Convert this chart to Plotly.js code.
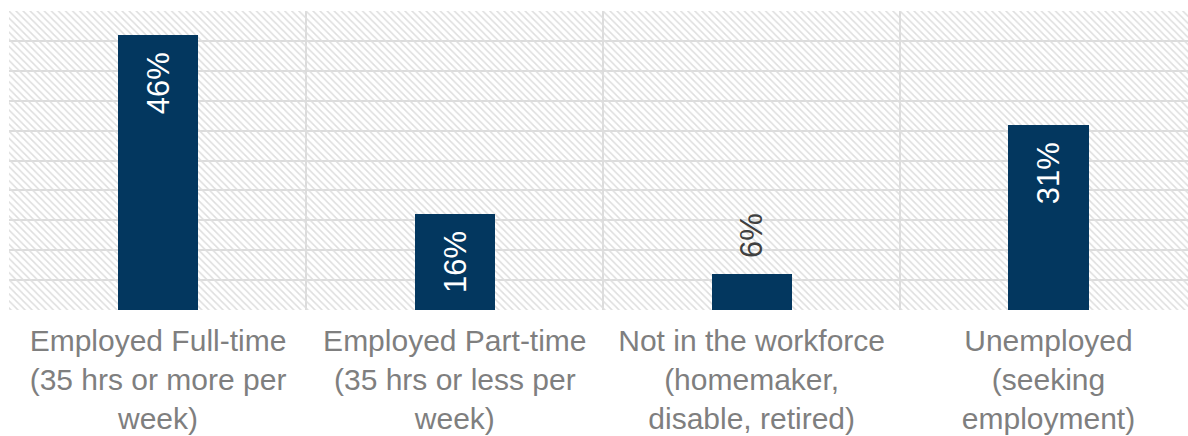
<!DOCTYPE html>
<html>
<head>
<meta charset="utf-8">
<script src="https://cdn.plot.ly/plotly-3.0.1.min.js"></script>
<style>
  html, body { margin: 0; padding: 0; background: #ffffff; }
  #chart { width: 1188px; height: 436px; }
</style>
</head>
<body>
<div id="chart"></div>
<script>
// ---- data ----
const categories = [
  "Employed Full-time<br>(35 hrs or more per<br>week)",
  "Employed Part-time<br>(35 hrs or less per<br>week)",
  "Not in the workforce<br>(homemaker,<br>disable, retired)",
  "Unemployed<br>(seeking<br>employment)"
];
const values = [46, 16, 6, 31];
const valueLabels = values.map(v => v + "%");
const yTicks = [0, 5, 10, 15, 20, 25, 30, 35, 40, 45, 50];

// ---- styling ----
const FONT = "Liberation Sans, Arial, sans-serif";
const BAR_COLOR = "#03375F";
const GRID = "#dcdcdc";

// Background hatch (plot area decoration, not data)
const bgTrace = {
  type: "bar",
  x: [0.5], y: [1], width: [1], base: [0],
  xaxis: "x", yaxis: "y",
  marker: {
    color: "rgba(0,0,0,0)",
    line: { width: 0 },
    pattern: { shape: "\\", fgcolor: "#dedede", bgcolor: "rgba(0,0,0,0)", size: 5, solidity: 0.3, fillmode: "replace" }
  },
  hoverinfo: "skip",
  showlegend: false
};

const barTrace = {
  type: "bar",
  x: categories,
  y: values,
  xaxis: "x2", yaxis: "y2",
  width: 0.27,
  marker: { color: BAR_COLOR, line: { width: 0 } },
  hoverinfo: "skip",
  showlegend: false
};

const annotations = values.map((v, i) => {
  const inside = v >= 10;
  return {
    xref: "x2", yref: "y2",
    x: categories[i], y: v,
    text: valueLabels[i],
    textangle: -90,
    showarrow: false,
    xanchor: "center",
    yanchor: inside ? "top" : "bottom",
    yshift: inside ? -15 : 14,
    font: { family: FONT, size: 31, color: inside ? "#ffffff" : "#404040" }
  };
});

const layout = {
  width: 1188, height: 436,
  margin: { l: 9, r: 0, t: 11, b: 126 },
  paper_bgcolor: "#ffffff",
  plot_bgcolor: "#ffffff",
  showlegend: false,
  hovermode: false,
  xaxis: { range: [0, 1], visible: false, fixedrange: true },
  yaxis: { range: [0, 1], visible: false, fixedrange: true },
  xaxis2: {
    overlaying: "x",
    type: "category",
    range: [-0.502, 3.47],
    tickson: "boundaries",
    showgrid: true, gridcolor: GRID, gridwidth: 2,
    ticks: "", showline: false, zeroline: false,
    ticklabelstandoff: 10,
    tickfont: { family: FONT, size: 30, color: "#7f7f7f" },
    fixedrange: true
  },
  yaxis2: {
    overlaying: "y",
    range: [-0.05, 50.05],
    tickmode: "array", tickvals: yTicks,
    showticklabels: false,
    showgrid: true, gridcolor: GRID, gridwidth: 2,
    zeroline: false, showline: false, ticks: "",
    fixedrange: true
  },
  annotations: annotations,
  bargap: 0
};

Plotly.newPlot("chart", [bgTrace, barTrace], layout, { displayModeBar: false, staticPlot: true });
</script>
</body>
</html>
